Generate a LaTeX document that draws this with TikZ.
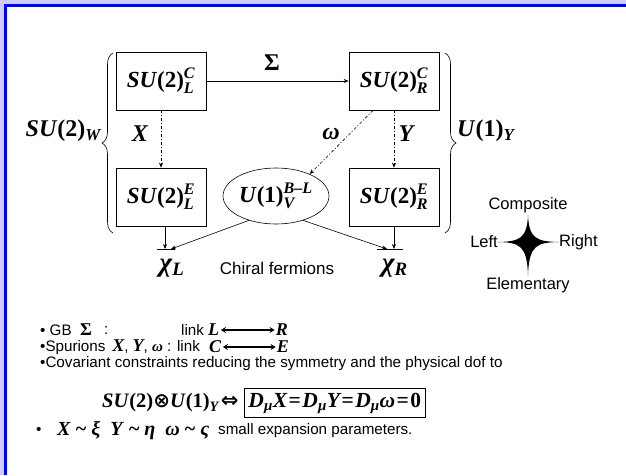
\documentclass[tikz,border=0pt]{standalone}
\usepackage{fontspec}
\usepackage{amsmath}
\setmainfont{Liberation Serif}
\newfontfamily\arial{Liberation Sans}
\newfontfamily\dvs{DejaVu Sans}
\usetikzlibrary{arrows.meta,shapes.geometric,decorations.pathreplacing,calc}
\newcommand\mb[1]{{\bfseries\itshape #1}}
\newcommand\fs[1]{\fontsize{#1}{#1}\selectfont}
\newcommand\grp[4]{\mb{#1}\textbf{(#2)}$^{\text{\mb{#3}}}_{\text{\mb{#4}}}$}
\newcommand\Dmu{\mb{D}$_{\text{\mb{μ}}}$}
\definecolor{lav}{RGB}{204,204,255}
\definecolor{frameblue}{RGB}{0,0,255}
\tikzset{
  bx/.style={draw, line width=0.7pt, minimum width=90pt, minimum height=58pt, inner sep=0pt, font=\fs{23}},
  arr/.style={-{Stealth[length=5pt,width=4pt]}, line width=0.6pt},
  dd/.style={arr, dash pattern=on 3pt off 2pt on 1pt off 2pt},
  lbl/.style={inner sep=0pt, font=\fs{24}},
  sans/.style={inner sep=0pt, font=\arial\fs{16.5}},
  body/.style={inner sep=0pt, anchor=west, font=\arial\fs{15.2}},
  lr/.style={inner sep=0pt, font=\fs{18}},
  dbl/.style={{Stealth[length=5pt,width=6pt]}-{Stealth[length=5pt,width=6pt]}, line width=1.2pt},
  brc/.style={decorate, decoration={brace, amplitude=11pt}, line width=0.6pt}
}
\begin{document}
\begin{tikzpicture}[x=1pt,y=-1pt]
\useasboundingbox (0,0) rectangle (626,475);
\fill[lav] (0,0) rectangle (626,475);
\fill[white] (6.5,6.5) rectangle (626,475);
\draw[frameblue, line width=2.5pt] (5.5,475) -- (5.5,5.5) -- (626,5.5);

% boxes
\node[bx] (bLC) at (161,81) {\grp{SU}{2}{C}{L}};
\node[bx] (bRC) at (394,81) {\grp{SU}{2}{C}{R}};
\node[bx] (bLE) at (161,197) {\grp{SU}{2}{E}{L}};
\node[bx] (bRE) at (394,197) {\grp{SU}{2}{E}{R}};
\node[ellipse, draw, line width=0.6pt, minimum width=106pt, minimum height=56pt, inner sep=0pt, font=\fs{23}] (ell) at (276,196) {\grp{U}{1}{B–L}{V}};

% connectors
\draw[arr] (bLC.east) -- (bRC.west);
\draw[dd] (bLC.south) -- (bLE.north);
\draw[dd] (bRC.south) -- (bRE.north);
\draw[dd] ([xshift=-21pt]bRC.south) -- (ell.33);

\node[lbl] (sig) at (272,63) {\textbf{Σ}};
\node[lbl] (lx) at (140,134) {\mb{X}};
\node[lbl] (ly) at (406,134) {\mb{Y}};
\node[lbl] (lw) at (331,134) {\mb{ω}};

% braces
\draw[brc] (113,233) -- (113,53);
\draw[brc] (445,53) -- (445,233);
\node[lbl, anchor=east] (suw) at (101,131) {\mb{SU}\textbf{(2)}$_{\text{\mb{W}}}$};
\node[lbl, anchor=west] (u1y) at (457,131) {\mb{U}\textbf{(1)}$_{\text{\mb{Y}}}$};

% fermions
\coordinate (bl1) at (157,249);
\coordinate (bl2) at (175,249);
\coordinate (br1) at (377,249);
\coordinate (br2) at (403,249);
\coordinate (tL1) at (165,249);
\coordinate (tL2) at (171,249);
\coordinate (tR1) at (387,249);
\coordinate (tR2) at (394,249);
\draw[line width=0.6pt] (bl1) -- (bl2);
\draw[line width=0.6pt] (br1) -- (br2);
\draw[arr] ([xshift=4pt]bLE.south) -- (tL1);
\draw[arr] (ell.222) -- (tL2);
\draw[arr] (ell.318) -- (tR1);
\draw[arr] (bRE.south) -- (tR2);
\node[inner sep=0pt, font=\fs{27}] (chiL) at (172,268) {\mb{χ}$_{\text{\mb{L}}}$};
\node[inner sep=0pt, font=\fs{27}] (chiR) at (395,268) {\mb{χ}$_{\text{\mb{R}}}$};
\node[inner sep=0pt, font=\arial\fs{17}] (chir) at (277,268) {Chiral fermions};

% compass
\fill (498,242) .. controls (519,241.5) and (527,239) .. (528,215)
  .. controls (529,239) and (537,241.5) .. (559,242)
  .. controls (537,242.5) and (529,245) .. (528,275)
  .. controls (527,245) and (519,242.5) .. cycle;
\node[sans] (comp) at (528,205) {Composite};
\node[sans] (elem) at (528,285) {Elementary};
\node[sans, anchor=east] (left) at (498,242) {Left};
\node[sans, anchor=west] (right) at (559,242) {Right};

% text block
\node[body] (t1) at (40,330) {• GB};
\node[inner sep=0pt, anchor=west, font=\fs{18}] (t1s) at (80,330) {\textbf{Σ}};
\node[body] (t1c) at (104,330) {:};
\node[body] (t1l) at (181,330) {link};
\node[lr, anchor=west] (L) at (208,330) {\mb{L}};
\node[lr, anchor=east] (R) at (288,330) {\mb{R}};
\draw[dbl] ([xshift=1.5pt]L.east) -- ([xshift=-1pt]R.west);

\node[body] (t2) at (40,347) {•Spurions \,{\rmfamily\fs{18}\mb{X}}, {\rmfamily\fs{18}\mb{Y}}, {\rmfamily\fs{15}\mb{ω}} : link};
\node[lr, anchor=west] (C) at (209,347) {\mb{C}};
\node[lr, anchor=east] (E) at (289,347) {\mb{E}};
\draw[dbl] ([xshift=1.5pt]C.east) -- ([xshift=-1pt]E.west);

\node[body] (t3) at (40,364) {•Covariant constraints reducing the symmetry and the physical dof to};

\node[inner sep=0pt, anchor=west, font=\fs{20.5}] (eqL) at (102,403) {\mb{SU}\kern1pt\textbf{(2)}{\dvs\bfseries\fs{20}⊗}\mb{U}\textbf{(1)}$_{\text{\mb{Y}}}$\kern2pt{\dvs\bfseries\fs{21}⇔}};
\node[draw, line width=0.7pt, anchor=west, minimum width=181pt, minimum height=29pt, inner sep=1pt, font=\fs{21.5}] (eqR) at (244,403) {\Dmu\mb{X}\kern1.5pt\textbf{=}\kern1.5pt\Dmu\mb{Y}\kern1.5pt\textbf{=}\kern1.5pt\Dmu\mb{ω}\kern1.5pt\textbf{=}\kern1.5pt\textbf{0}};

\node[body] (t5) at (36,431) {•};
\node[inner sep=0pt, anchor=west, font=\fs{20}] (t5m) at (57,431) {\mb{X} \textbf{\textasciitilde} \mb{ξ}\ \ \mb{Y} \textbf{\textasciitilde} \mb{η}\ \ \mb{ω} \textbf{\textasciitilde} \mb{ς}};
\node[body] (t5t) at (218,431) {small expansion parameters.};
\end{tikzpicture}
\end{document}
